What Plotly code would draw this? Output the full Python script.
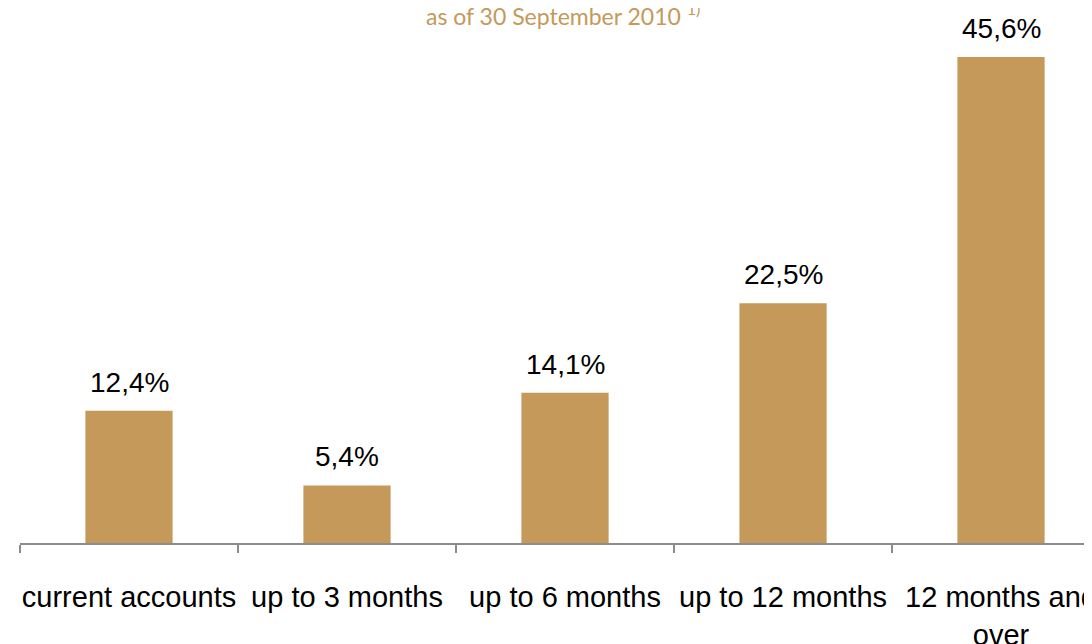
import plotly.graph_objects as go

categories = ["current accounts", "up to 3 months", "up to 6 months", "up to 12 months", "12 months and<br>over"]
values = [12.4, 5.4, 14.1, 22.5, 45.6]
value_labels = ["12,4%", "5,4%", "14,1%", "22,5%", "45,6%"]

bar_color = "#C4995A"

fig = go.Figure()
fig.add_trace(go.Bar(
    x=categories,
    y=values,
    marker=dict(color=bar_color, line=dict(width=0)),
    hoverinfo="skip",
))

for cat, v, lab in zip(categories, values, value_labels):
    fig.add_annotation(
        x=cat, y=v, text=lab, showarrow=False,
        yanchor="bottom", yshift=11,
        font=dict(family="Liberation Sans, Arial", size=28, color="#000000"),
    )

fig.add_annotation(
    xref="paper", yref="paper", x=0.503, y=1, yanchor="middle", yshift=-4,
    text="as of 30 September 2010 <sup>1)</sup>", showarrow=False,
    font=dict(family="Lato, Open Sans", size=23, color=bar_color),
)

fig.update_layout(
    width=1092, height=644,
    margin=dict(l=12, r=0, t=2, b=109, autoexpand=False),
    plot_bgcolor="white", paper_bgcolor="white",
    showlegend=False,
    bargap=0.6,
    xaxis=dict(
        type="category",
        range=[-0.5, 4.454],
        showline=True, linecolor="#8C8C8C", linewidth=2,
        ticks="outside", tickson="boundaries", ticklen=8, tickwidth=2, tickcolor="#8C8C8C",
        showgrid=False, zeroline=False,
        tickangle=0,
        tickfont=dict(family="Liberation Sans, Arial", size=29, color="#000000"),
        ticklabelstandoff=27,
        automargin=False,
        fixedrange=True,
    ),
    yaxis=dict(
        range=[0, 50], visible=False, showgrid=False, zeroline=False, fixedrange=True,
        automargin=False,
    ),
)

fig.write_html("out.html")
